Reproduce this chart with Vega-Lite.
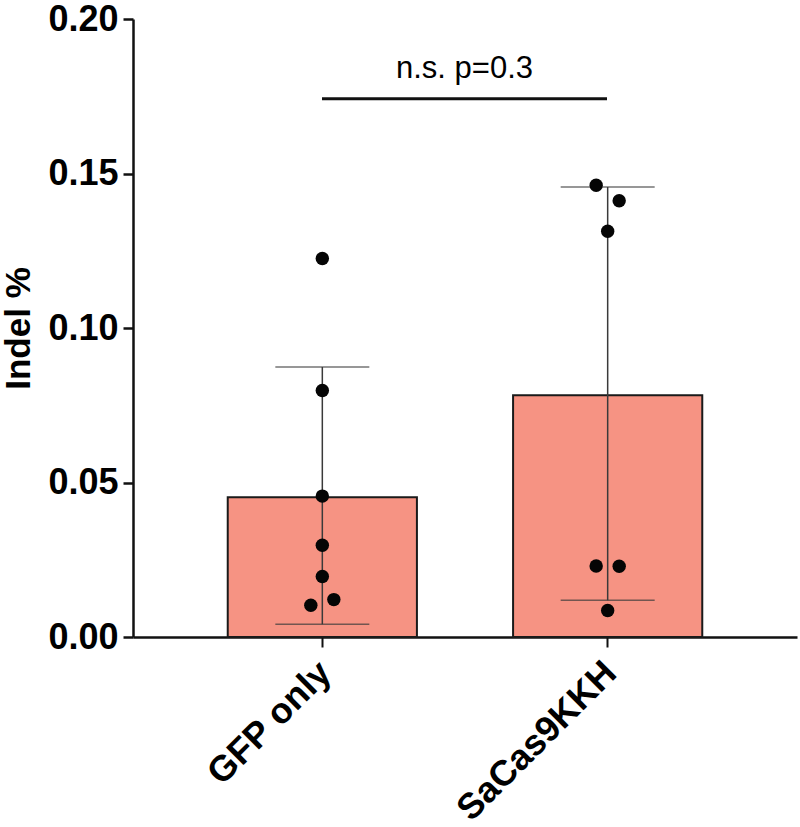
{
  "$schema": "https://vega.github.io/schema/vega-lite/v6.json",
  "width": 664,
  "height": 618,
  "autosize": "none",
  "padding": {"left": 133, "top": 19, "right": 3, "bottom": 190},
  "background": "white",
  "config": {
    "view": {"stroke": null},
    "font": "Liberation Sans",
    "axis": {"grid": false, "domainColor": "#111", "tickColor": "#111", "labelColor": "#000", "titleColor": "#000"}
  },
  "datasets": {
    "bars": [
      {"group": "GFP only", "mean": 0.0452, "low": 0.0041, "high": 0.0874},
      {"group": "SaCas9KKH", "mean": 0.0782, "low": 0.0119, "high": 0.1456}
    ],
    "points": [
      {"group": "GFP only", "value": 0.1225, "col": 0},
      {"group": "GFP only", "value": 0.0798, "col": 0},
      {"group": "GFP only", "value": 0.0456, "col": 0},
      {"group": "GFP only", "value": 0.0297, "col": 0},
      {"group": "GFP only", "value": 0.0196, "col": 0},
      {"group": "GFP only", "value": 0.0103, "col": -1},
      {"group": "GFP only", "value": 0.0121, "col": 1},
      {"group": "SaCas9KKH", "value": 0.1462, "col": -1},
      {"group": "SaCas9KKH", "value": 0.1412, "col": 1},
      {"group": "SaCas9KKH", "value": 0.1313, "col": 0},
      {"group": "SaCas9KKH", "value": 0.0230, "col": -1},
      {"group": "SaCas9KKH", "value": 0.0229, "col": 1},
      {"group": "SaCas9KKH", "value": 0.0086, "col": 0}
    ],
    "sig": [
      {"from": 0, "to": 1, "mid": 0.5, "y": 0.1742, "ty": 0.181, "label": "n.s. p=0.3"}
    ]
  },
  "resolve": {"scale": {"x": "independent", "xOffset": "independent"}},
  "layer": [
    {
      "layer": [
        {
          "data": {"name": "bars"},
          "mark": {"type": "bar", "fill": "#F69383", "stroke": "#1a1a1a", "strokeWidth": 2},
          "encoding": {
            "x": {
              "field": "group", "type": "nominal", "sort": null,
              "scale": {"type": "band", "paddingInner": 0.337, "paddingOuter": 0.332},
              "axis": {"title": null, "labelAngle": -45, "labelFontSize": 36, "labelFontWeight": "bold", "labelFont": "Liberation Sans", "labelLimit": 0, "tickSize": 10, "tickWidth": 2, "domainWidth": 2.5, "labelPadding": 8, "labelOffset": -9}
            },
            "y": {
              "field": "mean", "type": "quantitative", "title": "Indel %",
              "scale": {"domain": [0, 0.2]},
              "axis": {"values": [0, 0.05, 0.1, 0.15, 0.2], "format": ".2f", "labelFontSize": 36, "labelFontWeight": "bold", "labelFont": "Liberation Sans", "tickSize": 10, "tickWidth": 2.5, "domainWidth": 2.5, "labelPadding": 5, "titleFontSize": 35, "titleFontWeight": "bold", "titleFont": "Liberation Sans", "titlePadding": 11}
            }
          }
        },
        {
          "data": {"name": "bars"},
          "mark": {"type": "rule", "color": "#3a3a3a", "strokeWidth": 1.5},
          "encoding": {
            "x": {"field": "group", "type": "nominal", "sort": null},
            "y": {"field": "low", "type": "quantitative", "title": "Indel %"},
            "y2": {"field": "high"}
          }
        },
        {
          "data": {"name": "bars"},
          "mark": {"type": "tick", "color": "#3a3a3a", "thickness": 1.5, "size": 94},
          "encoding": {
            "x": {"field": "group", "type": "nominal", "sort": null},
            "y": {"field": "low", "type": "quantitative", "title": "Indel %"}
          }
        },
        {
          "data": {"name": "bars"},
          "mark": {"type": "tick", "color": "#3a3a3a", "thickness": 1.5, "size": 94},
          "encoding": {
            "x": {"field": "group", "type": "nominal", "sort": null},
            "y": {"field": "high", "type": "quantitative", "title": "Indel %"}
          }
        }
      ]
    },
    {
      "data": {"name": "points"},
      "mark": {"type": "circle", "color": "#050505", "opacity": 1, "size": 180},
      "encoding": {
        "x": {"field": "group", "type": "nominal", "sort": null, "scale": {"type": "band", "domain": ["GFP only", "SaCas9KKH"], "paddingInner": 0.337, "paddingOuter": 0.332}, "axis": null},
        "xOffset": {"field": "col", "type": "quantitative", "scale": {"domain": [-8.22, 8.22]}},
        "y": {"field": "value", "type": "quantitative", "title": "Indel %"}
      }
    },
    {
      "data": {"name": "sig"},
      "layer": [
        {
          "mark": {"type": "rule", "color": "#111", "strokeWidth": 3},
          "encoding": {
            "x": {"field": "from", "type": "quantitative", "scale": {"domain": [-0.6632, 1.6667], "nice": false, "zero": false}, "axis": null},
            "x2": {"field": "to"},
            "y": {"field": "y", "type": "quantitative", "title": "Indel %"}
          }
        },
        {
          "mark": {"type": "text", "font": "Liberation Sans", "fontSize": 31, "color": "#000", "align": "center", "baseline": "alphabetic"},
          "encoding": {
            "x": {"field": "mid", "type": "quantitative"},
            "y": {"field": "ty", "type": "quantitative", "title": "Indel %"},
            "text": {"field": "label"}
          }
        }
      ]
    }
  ]
}
